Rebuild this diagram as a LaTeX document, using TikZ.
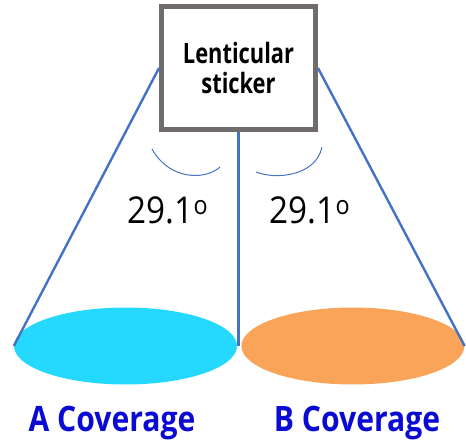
\documentclass[tikz,border=0pt]{standalone}
\usepackage{fontspec}
\usepackage{xcolor}
\usepackage{tikz}
\usetikzlibrary{positioning,calc,shapes.geometric}
\setmainfont{Open Sans}
\newfontfamily\narrowfont[FakeStretch=0.78]{Open Sans}
\newfontfamily\digitfont[FakeStretch=0.9]{Open Sans}
\newfontfamily\labelfont[FakeStretch=0.86]{Open Sans}
\definecolor{edgegray}{RGB}{112,108,108}
\definecolor{rayblue}{RGB}{68,114,196}
\definecolor{cyanfill}{RGB}{36,217,253}
\definecolor{orangefill}{RGB}{250,164,90}
\definecolor{labelblue}{RGB}{10,10,210}
\tikzset{
  stickerbox/.style={draw=edgegray, line width=5pt, fill=white,
    minimum width=154pt, minimum height=123pt, align=center,
    font=\narrowfont\bfseries\fontsize{28}{30}\selectfont},
  coverage/.style={ellipse, draw=none, inner sep=0pt,
    minimum width=223pt, minimum height=77pt},
  ray/.style={draw=rayblue, line width=2.4pt},
  anglearc/.style={draw=rayblue, line width=1pt},
  anglelabel/.style={font=\digitfont\fontsize{37}{39}\selectfont, inner sep=0pt},
  covlabel/.style={font=\labelfont\bfseries\fontsize{35}{37}\selectfont,
    text=labelblue, inner sep=0pt}
}

\begin{document}
\begin{tikzpicture}[x=1pt, y=-1pt]
\useasboundingbox (0,0) rectangle (466,446);

\node[coverage, fill=cyanfill] (covA) at (125.5,346) {};
\node[coverage, fill=orangefill, right=4pt of covA] (covB) {};

\node[stickerbox] (sticker) at (238.5,68) {Lenticular\\sticker};

% rays from the sticker
\draw[ray] (sticker.west)--(covA.west);
\draw[ray] (sticker.east)--(covB.east);
\draw[ray] (sticker.south)--(sticker.south |- covA.east);

% angle arcs
\draw[anglearc] (152,149) .. controls (170,181) and (206,180) .. (220,167);
\draw[anglearc] (256,172) .. controls (276,180) and (316,176) .. (322,147);

\node[anglelabel] (angA) at (168,210) {29.1\textsuperscript{o}};
\node[anglelabel] (angB) at (310,210) {29.1\textsuperscript{o}};

\node[covlabel] (labA) at (112,423) {A Coverage};
\node[covlabel] (labB) at (357,423) {B Coverage};
\end{tikzpicture}
\end{document}
